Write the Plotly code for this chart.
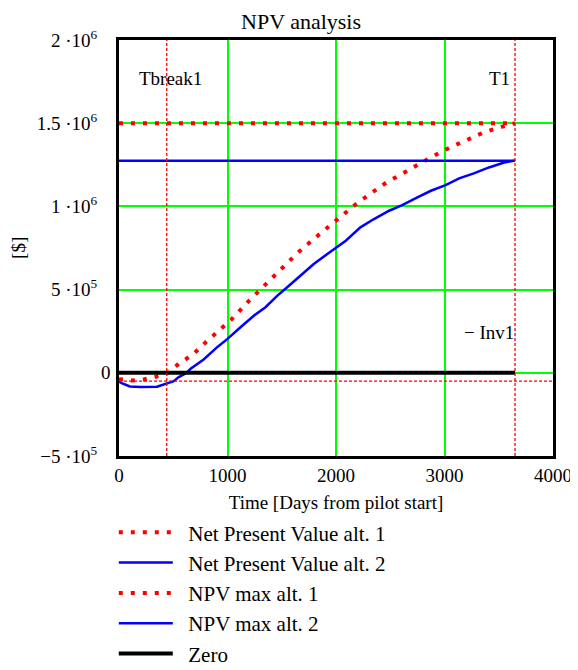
import plotly.graph_objects as go

# ---------------- data ----------------
days_alt1 = [0, 40, 120, 230, 320, 410, 490, 550, 620, 680, 800, 930, 1000, 1035,
             1200, 1315, 1425, 1540, 1645, 1765, 1890, 2010, 2130, 2205, 2335,
             2465, 2605, 2745, 2900, 3050, 3200, 3360, 3525, 3650]
npv_alt1 = [-40000, -38000, -46000, -40000, -26000, -14000, 20000, 54000, 84000,
            110000, 184000, 258000, 295000, 320000, 434000, 508000, 578000, 648000,
            720000, 788000, 858000, 925000, 985000, 1024000, 1084000, 1144000,
            1194000, 1248000, 1304000, 1354000, 1400000, 1444000, 1478000, 1500000]

days_alt2 = [0, 20, 100, 200, 350, 410, 505, 550, 610, 660, 780, 905, 1000, 1120,
             1245, 1350, 1460, 1550, 1675, 1795, 1920, 2010, 2090, 2225, 2350,
             2490, 2610, 2750, 2875, 3010, 3135, 3270, 3410, 3550, 3650]
npv_alt2 = [-52000, -60000, -82000, -86000, -84000, -72000, -50000, -26000, -6000,
            24000, 80000, 154000, 204000, 274000, 344000, 394000, 464000, 514000,
            584000, 654000, 714000, 754000, 794000, 874000, 924000, 974000, 1008000,
            1054000, 1094000, 1128000, 1168000, 1198000, 1234000, 1264000, 1275000]

T_start = 0
T1 = 3650
Tbreak1 = 440
Inv1 = 50000
NPV_max_alt1 = 1500000
NPV_max_alt2 = 1275000

x_ticks = [0, 1000, 2000, 3000, 4000]
y_ticks = [-500000, 0, 500000, 1000000, 1500000, 2000000]
SP = "\u00a0\u00a0\u2009"
y_tick_text = ["\u22125 \u00b710<sup>5</sup>" + SP, "0", "5 \u00b710<sup>5</sup>" + SP,
               "1 \u00b710<sup>6</sup>" + SP, "1.5 \u00b710<sup>6</sup>" + SP,
               "2 \u00b710<sup>6</sup>" + SP]
legend_names = ["Net Present Value alt. 1", "Net Present Value alt. 2",
                "NPV max alt. 1", "NPV max alt. 2", "Zero"]

# ---------------- figure ----------------
FONT = "Liberation Serif"
RED = "#ff0000"
BLUE = "#0000ff"
GREEN = "#00ff00"
DOT = "4px,8px"
PAD = "\u00a0\u00a0"

fig = go.Figure()

fig.add_trace(go.Scatter(x=days_alt1, y=npv_alt1, mode="lines",
                         name=PAD + legend_names[0],
                         line=dict(color=RED, width=4, dash=DOT)))
fig.add_trace(go.Scatter(x=days_alt2, y=npv_alt2, mode="lines",
                         name=PAD + legend_names[1],
                         line=dict(color=BLUE, width=2.5)))
fig.add_trace(go.Scatter(x=[T_start, T1], y=[NPV_max_alt1, NPV_max_alt1], mode="lines",
                         name=PAD + legend_names[2],
                         line=dict(color=RED, width=4, dash=DOT)))
fig.add_trace(go.Scatter(x=[T_start, T1], y=[NPV_max_alt2, NPV_max_alt2], mode="lines",
                         name=PAD + legend_names[3],
                         line=dict(color=BLUE, width=2.5)))
fig.add_trace(go.Scatter(x=[T_start, T1], y=[0, 0], mode="lines",
                         name=PAD + legend_names[4],
                         line=dict(color="black", width=4)))

# marker lines (vertical Tbreak1, T1 and horizontal -Inv1)
for xv in [Tbreak1, T1]:
    fig.add_shape(type="line", xref="x", yref="paper", x0=xv, x1=xv, y0=0, y1=1,
                  line=dict(color=RED, width=1.3, dash="3px,2px"), layer="above")
fig.add_shape(type="line", xref="paper", yref="y", x0=0, x1=1, y0=-Inv1, y1=-Inv1,
              line=dict(color=RED, width=1.3, dash="3px,2px"), layer="above")

fig.add_annotation(x=Tbreak1 - 270, y=1770000, text="Tbreak1", showarrow=False,
                   xanchor="left", yanchor="middle", font=dict(size=19, family=FONT, color="black"))
fig.add_annotation(x=T1 - 30, y=1770000, text="T1", showarrow=False,
                   xanchor="right", yanchor="middle", font=dict(size=19, family=FONT, color="black"))
fig.add_annotation(x=T1 + 10, y=245000, text="\u2212 Inv1", showarrow=False,
                   xanchor="right", yanchor="middle", font=dict(size=19, family=FONT, color="black"))
fig.add_annotation(xref="paper", yref="paper", x=-0.233, y=0.5, text="[$]", textangle=-90,
                   showarrow=False, xanchor="center", yanchor="middle",
                   font=dict(size=19, family=FONT, color="black"))

fig.update_layout(
    width=578, height=670,
    margin=dict(l=111, r=33, t=32, b=222, autoexpand=False),
    paper_bgcolor="white", plot_bgcolor="white",
    font=dict(family=FONT, color="black", size=19),
    title=dict(text="NPV analysis", x=0.507, xanchor="center", y=0.992, yanchor="top",
               font=dict(size=22, family=FONT, color="black")),
    xaxis=dict(range=[0, 4000], tickmode="array", tickvals=x_ticks,
               ticktext=[str(v) for v in x_ticks],
               showgrid=True, gridcolor=GREEN, gridwidth=1.5,
               showline=True, linecolor="black", linewidth=2.5, mirror=True,
               zeroline=False, ticks="", tickfont=dict(size=19, family=FONT),
               title=dict(text="Time [Days from pilot start]", standoff=12,
                          font=dict(size=19, family=FONT))),
    yaxis=dict(range=[-500000, 2000000], tickmode="array", tickvals=y_ticks,
               ticktext=y_tick_text, ticklabelstandoff=2,
               showgrid=True, gridcolor=GREEN, gridwidth=1.5,
               showline=True, linecolor="black", linewidth=2.5, mirror=True,
               zeroline=False, ticks="", tickfont=dict(size=19, family=FONT)),
    showlegend=True,
    legend=dict(x=-0.012, xanchor="left", y=-0.135, yanchor="top",
                font=dict(size=21, family=FONT, color="black"),
                bgcolor="rgba(0,0,0,0)", itemwidth=54, tracegroupgap=0),
)

fig.write_html("out.html")
